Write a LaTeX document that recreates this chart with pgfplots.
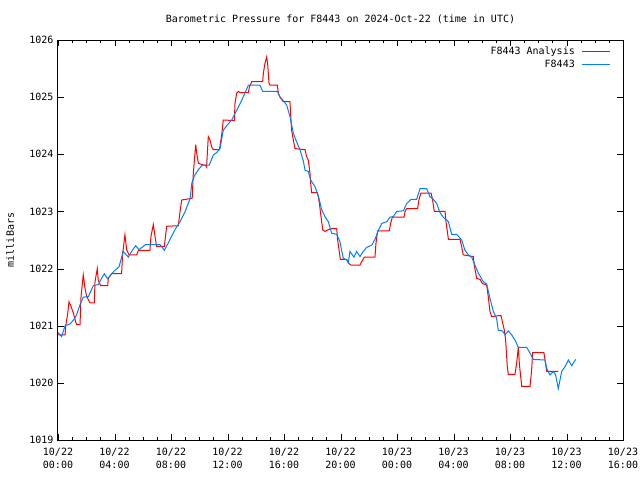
\documentclass[border=0pt]{standalone}
\usepackage{fontspec}
\setmainfont{DejaVu Sans Mono}
\usepackage{pgfplots}
\pgfplotsset{compat=1.18}
\definecolor{obsblue}{RGB}{0,128,255}
\begin{document}
\fontsize{10bp}{12bp}\selectfont
\begin{tikzpicture}
\path[use as bounding box] (-58bp,-40bp) rectangle (582bp,440bp);
\begin{axis}[
  scale only axis, width=565bp, height=400bp,
  at={(0,0)}, anchor=south west,
  xmin=0, xmax=40, ymin=1019, ymax=1026,
  xtick={0,4,...,40},
  xticklabels={{10/22\\00:00},{10/22\\04:00},{10/22\\08:00},{10/22\\12:00},{10/22\\16:00},{10/22\\20:00},{10/23\\00:00},{10/23\\04:00},{10/23\\08:00},{10/23\\12:00},{10/23\\16:00}},
  xticklabel style={align=center, font=\fontsize{10bp}{13bp}\selectfont, yshift=-5bp},
  minor x tick num=3,
  ytick={1019,1020,1021,1022,1023,1024,1025,1026},
  yticklabels={1019,1020,1021,1022,1023,1024,1025,1026},
  yticklabel style={font=\fontsize{10bp}{12bp}\selectfont, xshift=-1bp},
  tick align=inside,
  major tick length=0bp, minor tick length=0bp,
  axis line style={black, line width=1bp},
  title={Barometric Pressure for F8443 on 2024-Oct-22 (time in UTC)},
  title style={at={(rel axis cs:0.5,1)}, anchor=center, yshift=15bp, font=\fontsize{10bp}{12bp}\selectfont},
  ylabel={milliBars},
  every axis y label/.style={at={(rel axis cs:0,0.5)}, xshift=-48bp, rotate=90, anchor=center, font=\fontsize{10bp}{12bp}\selectfont},
  legend style={draw=none, fill=none, at={(rel axis cs:1,1)}, anchor=north east, xshift=-12bp, yshift=-5bp, row sep=0bp, column sep=5bp, font=\fontsize{10bp}{12bp}\selectfont, cells={anchor=east}, inner sep=0pt},
  legend plot pos=right,
  legend image code/.code={\draw[#1] (0bp,0bp) -- (28bp,0bp);},
]
\addplot[red, line width=1bp] coordinates {
(0.0,1020.84) (0.5,1020.84) (0.55,1021.0) (0.69,1021.22) (0.78,1021.42) (0.92,1021.34) (1.09,1021.22) (1.25,1021.07) (1.32,1021.02) (1.56,1021.02)
(1.63,1021.51) (1.79,1021.89) (1.91,1021.66) (2.03,1021.51) (2.27,1021.4) (2.57,1021.4) (2.62,1021.77) (2.78,1022.0) (2.85,1021.8) (3.02,1021.7)
(3.52,1021.7) (3.56,1021.83) (3.8,1021.91) (4.5,1021.91) (4.58,1022.27) (4.74,1022.59) (4.86,1022.33) (5.03,1022.24) (5.57,1022.24) (5.69,1022.32)
(6.51,1022.32) (6.58,1022.56) (6.75,1022.77) (6.87,1022.56) (6.98,1022.39) (7.53,1022.39) (7.69,1022.74) (8.52,1022.75) (8.64,1023.0) (8.76,1023.2)
(9.5,1023.23) (9.58,1023.67) (9.7,1024.02) (9.75,1024.17) (9.82,1024.02) (9.94,1023.84) (10.48,1023.8) (10.52,1023.78) (10.64,1024.31) (10.76,1024.25)
(10.88,1024.13) (10.99,1024.08) (11.43,1024.08) (11.59,1024.34) (11.7,1024.6) (12.49,1024.59) (12.53,1024.89) (12.65,1025.07) (12.77,1025.1) (12.89,1025.08)
(13.48,1025.08) (13.55,1025.18) (13.72,1025.27) (14.49,1025.27) (14.54,1025.42) (14.65,1025.59) (14.77,1025.7) (14.84,1025.59) (14.94,1025.24) (15.01,1025.21)
(15.53,1025.21) (15.6,1025.07) (15.72,1025.0) (15.95,1024.92) (16.42,1024.92) (16.54,1024.42) (16.66,1024.25) (16.78,1024.1) (17.49,1024.08) (17.6,1023.96)
(17.72,1023.9) (17.84,1023.67) (17.89,1023.49) (17.96,1023.33) (18.36,1023.33) (18.43,1023.26) (18.5,1023.15) (18.62,1022.91) (18.74,1022.68) (18.9,1022.65)
(19.14,1022.68) (19.37,1022.7) (19.73,1022.7) (19.8,1022.5) (19.91,1022.3) (19.99,1022.16) (20.44,1022.16) (20.55,1022.1) (20.74,1022.06) (21.38,1022.06)
(21.5,1022.12) (21.69,1022.2) (22.44,1022.2) (22.51,1022.44) (22.63,1022.66) (23.45,1022.66) (23.55,1022.79) (23.67,1022.9) (24.5,1022.9) (24.57,1023.0)
(24.68,1023.05) (25.46,1023.05) (25.55,1023.2) (25.69,1023.32) (26.41,1023.32) (26.5,1023.23) (26.64,1023.0) (27.4,1023.0) (27.47,1022.82) (27.64,1022.51)
(28.46,1022.51) (28.58,1022.38) (28.69,1022.24) (29.4,1022.21) (29.47,1022.06) (29.64,1021.83) (29.88,1021.81) (30.04,1021.74) (30.35,1021.71) (30.46,1021.51)
(30.58,1021.25) (30.7,1021.16) (31.36,1021.18) (31.46,1021.07) (31.6,1020.92) (31.69,1020.75) (31.81,1020.28) (31.88,1020.15) (32.35,1020.15) (32.47,1020.34)
(32.59,1020.63) (32.66,1020.34) (32.83,1019.94) (33.42,1019.94) (33.53,1020.22) (33.6,1020.53) (34.4,1020.53) (34.48,1020.4) (34.6,1020.2) (35.42,1020.2)
};
\addlegendentry{F8443 Analysis}
\addplot[obsblue, line width=1bp] coordinates {
(0.0,1020.88) (0.26,1020.81) (0.5,1021.0) (0.85,1021.03) (1.1,1021.1) (1.32,1021.19) (1.56,1021.37) (1.79,1021.5) (2.15,1021.51) (2.5,1021.7)
(2.85,1021.72) (3.09,1021.83) (3.28,1021.91) (3.52,1021.82) (3.8,1021.91) (4.03,1021.97) (4.32,1022.03) (4.62,1022.3) (4.98,1022.2) (5.21,1022.3)
(5.5,1022.4) (5.73,1022.33) (6.2,1022.42) (7.22,1022.42) (7.53,1022.32) (7.81,1022.45) (8.28,1022.68) (8.64,1022.82) (9.0,1023.0) (9.35,1023.22)
(9.47,1023.49) (9.63,1023.61) (9.93,1023.73) (10.22,1023.81) (10.71,1023.81) (11.0,1023.99) (11.23,1024.03) (11.47,1024.1) (11.7,1024.42) (11.94,1024.5)
(12.3,1024.6) (12.65,1024.77) (13.0,1024.94) (13.48,1025.21) (14.3,1025.21) (14.49,1025.1) (15.53,1025.1) (15.72,1025.0) (15.95,1024.94) (16.19,1024.86)
(16.42,1024.66) (16.66,1024.37) (16.84,1024.25) (17.13,1024.08) (17.37,1023.88) (17.49,1023.72) (17.72,1023.7) (17.89,1023.55) (18.2,1023.43) (18.44,1023.26)
(18.67,1023.03) (18.9,1022.91) (19.14,1022.82) (19.37,1022.62) (19.73,1022.6) (19.96,1022.47) (20.08,1022.32) (20.2,1022.18) (20.44,1022.15) (20.55,1022.1)
(20.67,1022.3) (20.95,1022.2) (21.14,1022.3) (21.38,1022.21) (21.61,1022.3) (21.85,1022.37) (22.21,1022.41) (22.44,1022.51) (22.68,1022.67) (22.92,1022.79)
(23.27,1022.82) (23.5,1022.9) (23.74,1022.91) (23.98,1023.0) (24.45,1023.01) (24.69,1023.14) (24.99,1023.21) (25.39,1023.21) (25.63,1023.4) (26.1,1023.4)
(26.33,1023.26) (26.57,1023.21) (26.81,1023.14) (27.04,1022.98) (27.28,1022.9) (27.64,1022.82) (27.87,1022.6) (28.22,1022.6) (28.58,1022.5) (28.81,1022.32)
(29.05,1022.24) (29.29,1022.2) (29.52,1022.06) (29.76,1021.92) (30.11,1021.77) (30.35,1021.73) (30.58,1021.48) (30.82,1021.25) (31.05,1021.13) (31.17,1020.92)
(31.46,1020.91) (31.65,1020.84) (31.88,1020.91) (32.12,1020.84) (32.35,1020.75) (32.59,1020.62) (33.18,1020.62) (33.42,1020.52) (33.65,1020.41) (34.48,1020.4)
(34.6,1020.25) (34.83,1020.14) (35.07,1020.2) (35.23,1020.14) (35.42,1019.9) (35.66,1020.2) (35.89,1020.28) (36.13,1020.4) (36.37,1020.3) (36.65,1020.41)
};
\addlegendentry{F8443}
\end{axis}
% tick marks (axis decoration) along the 565bp x 400bp axis box, snapped to pixel columns
\foreach \i in {0,...,40}{
  \pgfmathsetmacro{\tl}{ifthenelse(mod(\i,4)==0,6,3)}
  \pgfmathsetmacro{\xp}{round(\i*14.125)+0.5}
  \draw[black, line width=1.2bp] (\xp bp,0bp) -- ++(0bp,\tl bp);
  \draw[black, line width=1.2bp] (\xp bp,400bp) -- ++(0bp,-\tl bp);
}
\foreach \j in {0,...,7}{
  \pgfmathsetmacro{\yp}{round(\j*57.142857)-0.5}
  \draw[black, line width=1.2bp] (0bp,\yp bp) -- ++(6bp,0bp);
  \draw[black, line width=1.2bp] (565bp,\yp bp) -- ++(-6bp,0bp);
}
\end{tikzpicture}
\end{document}
